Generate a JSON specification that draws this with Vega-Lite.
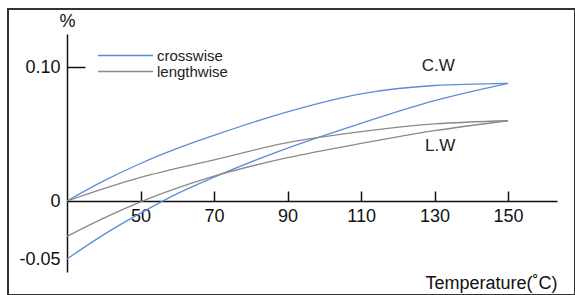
{
  "$schema": "https://vega.github.io/schema/vega-lite/v6.json",
  "width": 567,
  "height": 286,
  "autosize": {"type": "none"},
  "padding": {"left": 8, "top": 9, "right": 0, "bottom": 0},
  "background": "white",
  "config": {
    "view": {"stroke": "#333333", "strokeWidth": 2},
    "font": "Liberation Sans"
  },
  "datasets": {
    "curves": [
      {"T": 30, "v": 0.0, "series": "crosswise", "branch": "cw_up"},
      {"T": 40, "v": 0.0150, "series": "crosswise", "branch": "cw_up"},
      {"T": 50, "v": 0.0280, "series": "crosswise", "branch": "cw_up"},
      {"T": 60, "v": 0.0392, "series": "crosswise", "branch": "cw_up"},
      {"T": 70, "v": 0.049, "series": "crosswise", "branch": "cw_up"},
      {"T": 90, "v": 0.0666, "series": "crosswise", "branch": "cw_up"},
      {"T": 110, "v": 0.0800, "series": "crosswise", "branch": "cw_up"},
      {"T": 130, "v": 0.0862, "series": "crosswise", "branch": "cw_up"},
      {"T": 150, "v": 0.0878, "series": "crosswise", "branch": "cw_up"},
      {"T": 30, "v": -0.05, "series": "crosswise", "branch": "cw_low"},
      {"T": 40, "v": -0.029, "series": "crosswise", "branch": "cw_low"},
      {"T": 50, "v": -0.0105, "series": "crosswise", "branch": "cw_low"},
      {"T": 60, "v": 0.0055, "series": "crosswise", "branch": "cw_low"},
      {"T": 70, "v": 0.0178, "series": "crosswise", "branch": "cw_low"},
      {"T": 90, "v": 0.0395, "series": "crosswise", "branch": "cw_low"},
      {"T": 110, "v": 0.058, "series": "crosswise", "branch": "cw_low"},
      {"T": 130, "v": 0.0749, "series": "crosswise", "branch": "cw_low"},
      {"T": 150, "v": 0.0878, "series": "crosswise", "branch": "cw_low"},
      {"T": 30, "v": 0.0, "series": "lengthwise", "branch": "lw_up"},
      {"T": 40, "v": 0.0093, "series": "lengthwise", "branch": "lw_up"},
      {"T": 50, "v": 0.0176, "series": "lengthwise", "branch": "lw_up"},
      {"T": 70, "v": 0.0307, "series": "lengthwise", "branch": "lw_up"},
      {"T": 90, "v": 0.0435, "series": "lengthwise", "branch": "lw_up"},
      {"T": 110, "v": 0.0517, "series": "lengthwise", "branch": "lw_up"},
      {"T": 130, "v": 0.0575, "series": "lengthwise", "branch": "lw_up"},
      {"T": 150, "v": 0.0599, "series": "lengthwise", "branch": "lw_up"},
      {"T": 30, "v": -0.0305, "series": "lengthwise", "branch": "lw_low"},
      {"T": 40, "v": -0.0148, "series": "lengthwise", "branch": "lw_low"},
      {"T": 50, "v": -0.0008, "series": "lengthwise", "branch": "lw_low"},
      {"T": 70, "v": 0.0185, "series": "lengthwise", "branch": "lw_low"},
      {"T": 90, "v": 0.0323, "series": "lengthwise", "branch": "lw_low"},
      {"T": 110, "v": 0.043, "series": "lengthwise", "branch": "lw_low"},
      {"T": 130, "v": 0.0525, "series": "lengthwise", "branch": "lw_low"},
      {"T": 150, "v": 0.0599, "series": "lengthwise", "branch": "lw_low"}
    ],
    "labels": [
      {"T": 131, "v": 0.1007, "label": "C.W"},
      {"T": 131.5, "v": 0.041, "label": "L.W"}
    ]
  },
  "encoding": {
    "x": {
      "field": "T",
      "type": "quantitative",
      "scale": {"domain": [30, 163.3], "range": [59, 549], "nice": false, "zero": false},
      "axis": {
        "orient": "bottom",
        "offset": -94,
        "values": [50, 70, 90, 110, 130, 150],
        "tickSize": -10,
        "tickColor": "#111111",
        "tickWidth": 1.5,
        "domainColor": "#111111",
        "domainWidth": 1.5,
        "labelFontSize": 18,
        "labelColor": "#111111",
        "labelPadding": 16,
        "labelFlush": false,
        "labelOverlap": false,
        "grid": false,
        "title": "Temperature(˚C)",
        "titleX": 549,
        "titleY": 82,
        "titleAlign": "right",
        "titleBaseline": "middle",
        "titleFontSize": 18,
        "titleFontWeight": "normal",
        "titleColor": "#111111"
      }
    },
    "y": {
      "field": "v",
      "type": "quantitative",
      "scale": {"domain": [-0.0612, -0.05, 0, 0.1, 0.1246], "range": [263, 250, 192, 58, 25], "nice": false, "zero": false},
      "axis": {
        "orient": "left",
        "offset": -59,
        "values": [-0.05, 0, 0.1],
        "labelExpr": "datum.value > 0.05 ? '0.10' : (datum.value < -0.01 ? '-0.05' : '0')",
        "tickSize": -18,
        "tickColor": "#111111",
        "tickWidth": 1.5,
        "tickOpacity": {"condition": {"test": "datum.value > 0.05", "value": 1}, "value": 0},
        "domainColor": "#111111",
        "domainWidth": 1.5,
        "labelFontSize": 18,
        "labelColor": "#111111",
        "labelPadding": 25,
        "labelOverlap": false,
        "grid": false,
        "title": "%",
        "titleAngle": 0,
        "titleX": 0,
        "titleY": 12,
        "titleAlign": "center",
        "titleBaseline": "middle",
        "titleFontSize": 18,
        "titleFontWeight": "normal",
        "titleColor": "#111111"
      }
    }
  },
  "layer": [
    {
      "data": {"name": "curves"},
      "mark": {"type": "line", "interpolate": "monotone", "strokeWidth": 1.3},
      "encoding": {
        "color": {
          "field": "series",
          "type": "nominal",
          "scale": {"domain": ["crosswise", "lengthwise"], "range": ["#5a8ed8", "#8a8a8a"]},
          "legend": {
            "orient": "none",
            "legendX": 110,
            "legendY": 39,
            "title": null,
            "symbolType": "M-5,0H5",
            "symbolSize": 121,
            "symbolStrokeWidth": 1.3,
            "labelFontSize": 15,
            "labelColor": "#222222",
            "labelOffset": 24,
            "rowPadding": -2,
            "padding": 0
          }
        },
        "detail": {"field": "branch"}
      }
    },
    {
      "data": {"name": "labels"},
      "mark": {"type": "text", "fontSize": 17, "color": "#222222"},
      "encoding": {
        "text": {"field": "label"}
      }
    }
  ]
}
